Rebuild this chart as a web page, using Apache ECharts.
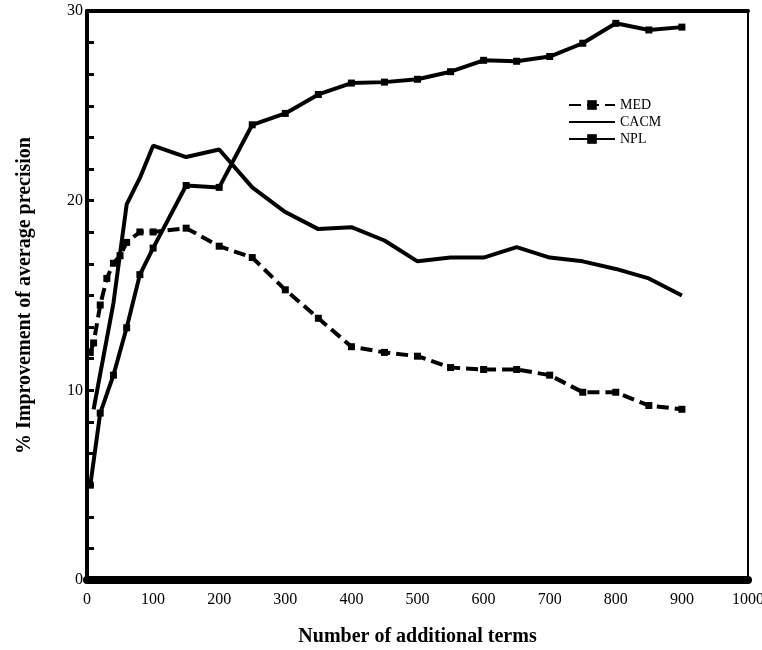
<!DOCTYPE html>
<html lang="en">
<head>
    <meta charset="UTF-8">
    <title>Improvement of average precision</title>
    <script src="https://cdn.jsdelivr.net/npm/echarts/dist/echarts.min.js"></script>
    <style>
        body { margin: 0; background: #fff; }
        #chart { width: 762px; height: 650px; }
    </style>
</head>
<body>
<div id="chart"></div>
<script>
    // data
    const medX = [5, 10, 20, 30, 40, 50, 60, 80, 100, 150, 200, 250, 300, 350, 400, 450, 500, 550, 600, 650, 700, 750, 800, 850, 900];
    const medY = [12.0, 12.5, 14.5, 15.9, 16.7, 17.1, 17.8, 18.35, 18.35, 18.55, 17.6, 17.0, 15.3, 13.8, 12.3, 12.0, 11.8, 11.2, 11.1, 11.1, 10.8, 9.9, 9.9, 9.2, 9.0];
    const cacmX = [10, 40, 60, 80, 100, 150, 200, 250, 300, 350, 400, 450, 500, 550, 600, 650, 700, 750, 800, 850, 900];
    const cacmY = [9.0, 14.6, 19.8, 21.2, 22.9, 22.3, 22.7, 20.7, 19.4, 18.5, 18.6, 17.9, 16.8, 17.0, 17.0, 17.55, 17.0, 16.8, 16.4, 15.9, 15.0];
    const nplX = [5, 20, 40, 60, 80, 100, 150, 200, 250, 300, 350, 400, 450, 500, 550, 600, 650, 700, 750, 800, 850, 900];
    const nplY = [5.0, 8.8, 10.8, 13.3, 16.1, 17.5, 20.8, 20.7, 24.0, 24.6, 25.6, 26.2, 26.25, 26.4, 26.8, 27.4, 27.35, 27.6, 28.3, 29.35, 29.0, 29.15];

    const serif = '"Liberation Serif", "DejaVu Serif", serif';
    const pairs = (xs, ys) => xs.map((x, i) => [x, ys[i]]);

    const chart = echarts.init(document.getElementById('chart'));
    chart.setOption({
        animation: false,
        textStyle: { fontFamily: serif, color: '#000' },
        grid: { left: 87, right: 14, top: 11, bottom: 70, outerBoundsMode: 'none' },
        legend: {
            orient: 'vertical',
            left: 563,
            top: 93,
            itemWidth: 46,
            itemHeight: 12,
            itemGap: 3,
            textStyle: { fontFamily: serif, fontSize: 14, lineHeight: 14, color: '#000' },
            data: [
                { name: 'MED' },
                { name: 'CACM', itemStyle: { opacity: 0 } },
                { name: 'NPL' }
            ]
        },
        xAxis: [{
            type: 'value',
            min: 0, max: 1000, interval: 100,
            name: 'Number of additional terms',
            nameLocation: 'middle',
            nameGap: 47,
            nameTextStyle: { fontFamily: serif, fontSize: 20, fontWeight: 'bold', color: '#000' },
            axisLine: { show: true, onZero: false, lineStyle: { color: '#000', width: 8 } },
            axisTick: { show: false },
            axisLabel: { fontFamily: serif, fontSize: 16, color: '#000', margin: 12, formatter: v => String(v) },
            splitLine: { show: false }
        }, {
            type: 'value',
            position: 'top',
            min: 0, max: 1000,
            axisLine: { show: true, onZero: false, lineStyle: { color: '#000', width: 4 } },
            axisTick: { show: false },
            axisLabel: { show: false },
            splitLine: { show: false }
        }],
        yAxis: [{
            type: 'value',
            min: 0, max: 30, interval: 10,
            name: '% Improvement of average precision',
            nameLocation: 'middle',
            nameGap: 52,
            nameTextStyle: { fontFamily: serif, fontSize: 20, fontWeight: 'bold', color: '#000' },
            axisLine: { show: true, onZero: false, lineStyle: { color: '#000', width: 4 } },
            axisTick: { show: true, inside: true, length: 7, lineStyle: { color: '#000', width: 3 } },
            minorTick: { show: true, splitNumber: 6, length: 7, lineStyle: { color: '#000', width: 3 } },
            axisLabel: { fontFamily: serif, fontSize: 16, color: '#000', margin: 4 },
            splitLine: { show: false }
        }, {
            type: 'value',
            position: 'right',
            min: 0, max: 30,
            axisLine: { show: true, onZero: false, lineStyle: { color: '#000', width: 2 } },
            axisTick: { show: false },
            axisLabel: { show: false },
            splitLine: { show: false }
        }],
        series: [{
            name: 'MED',
            type: 'line',
            data: pairs(medX, medY),
            symbol: 'rect',
            symbolSize: 7,
            itemStyle: { color: '#000' },
            lineStyle: { color: '#000', width: 4, type: [12, 6] }
        }, {
            name: 'CACM',
            type: 'line',
            data: pairs(cacmX, cacmY),
            symbol: 'none',
            itemStyle: { color: '#000' },
            lineStyle: { color: '#000', width: 4 }
        }, {
            name: 'NPL',
            type: 'line',
            data: pairs(nplX, nplY),
            symbol: 'rect',
            symbolSize: 7,
            itemStyle: { color: '#000' },
            lineStyle: { color: '#000', width: 4 }
        }]
    });
</script>
</body>
</html>
